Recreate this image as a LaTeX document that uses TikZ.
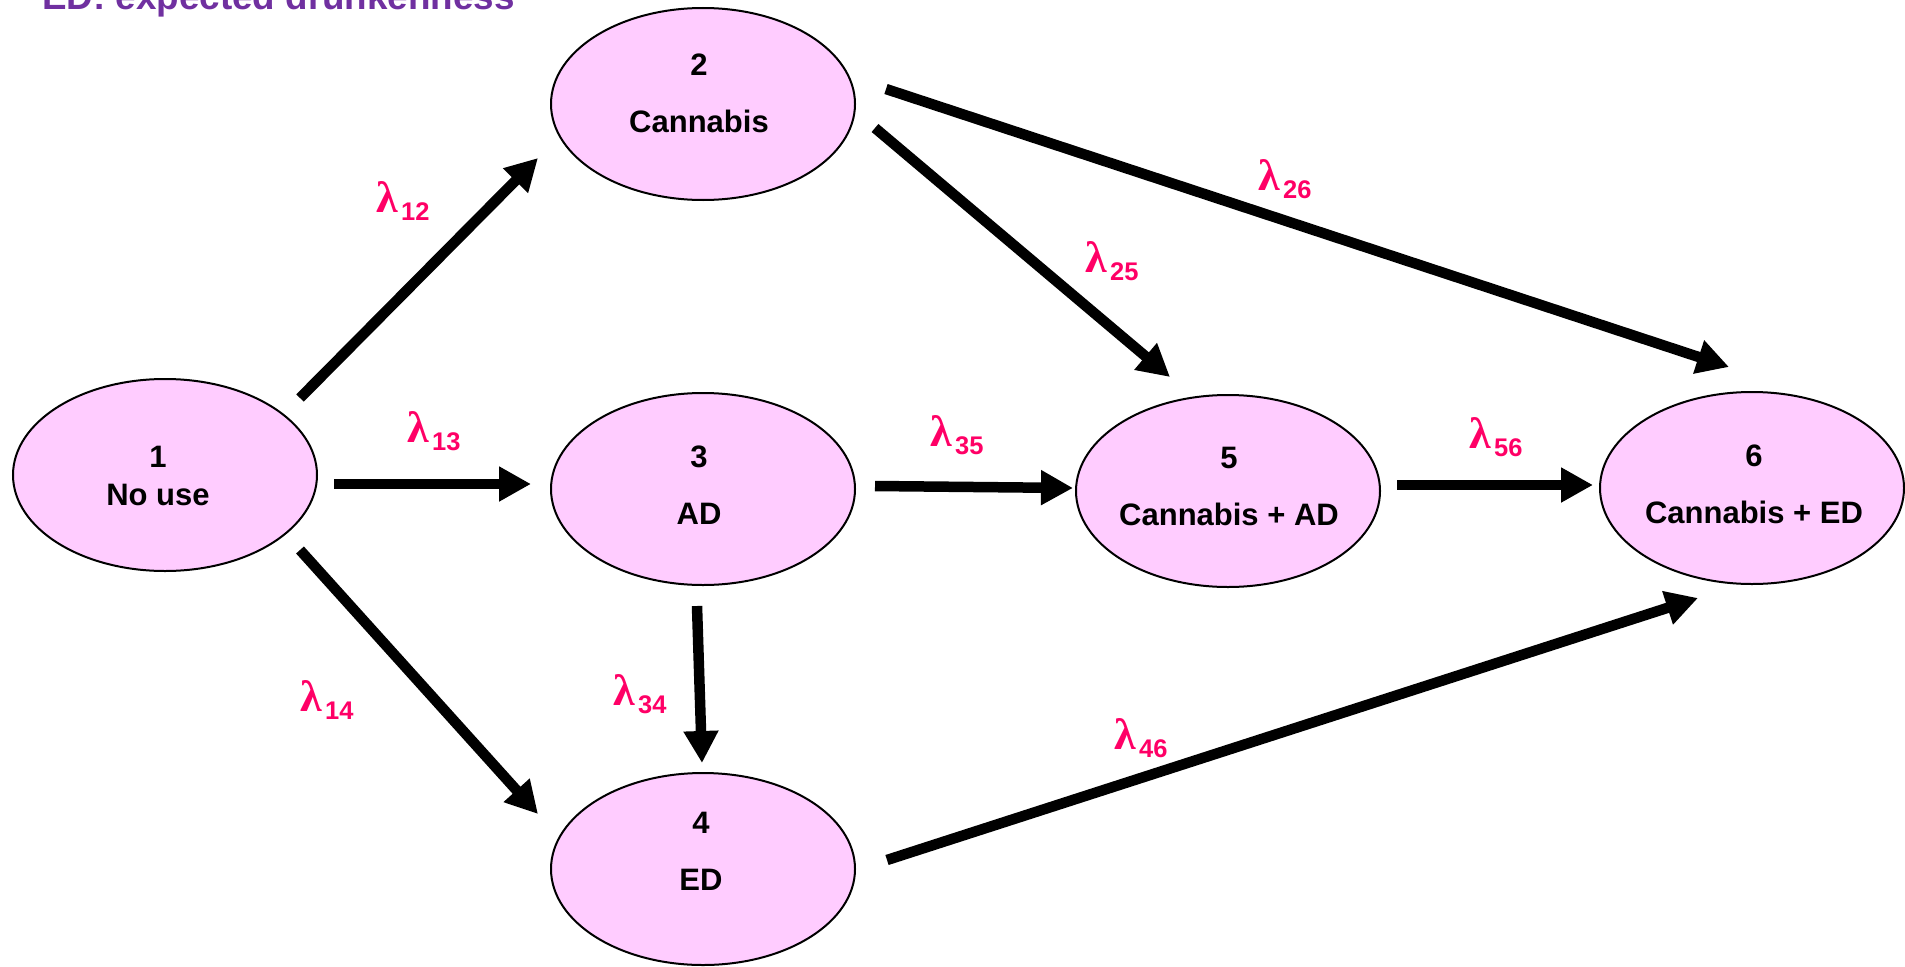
\documentclass[tikz,border=0pt]{standalone}
\usepackage{fontspec}
\setmainfont{Liberation Sans}
\newfontfamily\lamfont{Liberation Serif}
\usetikzlibrary{arrows.meta,shapes.geometric}

\definecolor{statefill}{RGB}{255,204,255}
\definecolor{ratecol}{RGB}{255,0,102}
\definecolor{titlecol}{RGB}{112,48,160}

% transition intensity lambda_{ij}
\newcommand{\rate}[1]{{\lamfont\bfseries\fontsize{44}{44}\selectfont λ}\kern3pt\raisebox{-8pt}{\bfseries\fontsize{25.5}{26}\selectfont #1}}

\begin{document}
\begin{tikzpicture}[x=1pt,y=-1pt,
  state/.style={ellipse, draw=black, line width=2pt, fill=statefill,
    minimum width=304pt, minimum height=192pt, inner sep=0pt},
  statetext/.style={align=center, inner sep=0pt,
    font=\bfseries\fontsize{31}{57}\selectfont},
  tighttext/.style={align=center, inner sep=0pt,
    font=\bfseries\fontsize{31}{38}\selectfont},
  ratelabel/.style={text=ratecol, inner sep=0pt},
  flow/.style={line width=10.5pt, -{Triangle[length=32pt,width=33pt]}}]

\useasboundingbox (0,0) rectangle (1905,966);
\clip (0,0) rectangle (1905,966);

% heading (partly above the page edge)
\node[anchor=base west, inner sep=0pt, text=titlecol,
  font=\bfseries\fontsize{36.8}{40}\selectfont] (title) at (42,10)
  {ED: expected drunkenness};

% states
\node[state] (n1) at (165,475) {};
\node[state] (n2) at (703,104) {};
\node[state] (n3) at (703,489) {};
\node[state] (n4) at (703,869) {};
\node[state] (n5) at (1228,491) {};
\node[state] (n6) at (1752,488) {};

\node[tighttext] (t1) at (158,476) {1\\No use};
\node[statetext] (t2) at (699,93) {2\\Cannabis};
\node[statetext] (t3) at (699,485) {3\\AD};
\node[statetext] (t4) at (701,851) {4\\ED};
\node[statetext] (t5) at (1229,486) {5\\Cannabis + AD};
\node[statetext] (t6) at (1754,484) {6\\Cannabis + ED};

% transition arrow end points
\coordinate (s12) at (300,398);  \coordinate (e12) at (538,158);
\coordinate (s13) at (334,484);  \coordinate (e13) at (531,484);
\coordinate (s14) at (300,550);  \coordinate (e14) at (538,814);
\coordinate (s25) at (875,128);  \coordinate (e25) at (1170,377);
\coordinate (s26) at (886,89);   \coordinate (e26) at (1729,367);
\coordinate (s35) at (875,486);  \coordinate (e35) at (1073,488);
\coordinate (s34) at (697,606);  \coordinate (e34) at (702,763);
\coordinate (s56) at (1397,485); \coordinate (e56) at (1593,485);
\coordinate (s46) at (887,860);  \coordinate (e46) at (1698,598);

\draw[flow] (s12) -- (e12);
\draw[flow] (s13) -- (e13);
\draw[flow] (s14) -- (e14);
\draw[flow] (s25) -- (e25);
\draw[flow] (s26) -- (e26);
\draw[flow] (s35) -- (e35);
\draw[flow] (s34) -- (e34);
\draw[flow] (s56) -- (e56);
\draw[flow] (s46) -- (e46);

% transition intensities
\node[ratelabel] (l12) at (403,201) {\rate{12}};
\node[ratelabel] (l13) at (434,431) {\rate{13}};
\node[ratelabel] (l14) at (327,700) {\rate{14}};
\node[ratelabel] (l25) at (1112,261) {\rate{25}};
\node[ratelabel] (l26) at (1285,179) {\rate{26}};
\node[ratelabel] (l35) at (957,435) {\rate{35}};
\node[ratelabel] (l34) at (640,694) {\rate{34}};
\node[ratelabel] (l56) at (1496,437) {\rate{56}};
\node[ratelabel] (l46) at (1141,738) {\rate{46}};
\end{tikzpicture}
\end{document}
